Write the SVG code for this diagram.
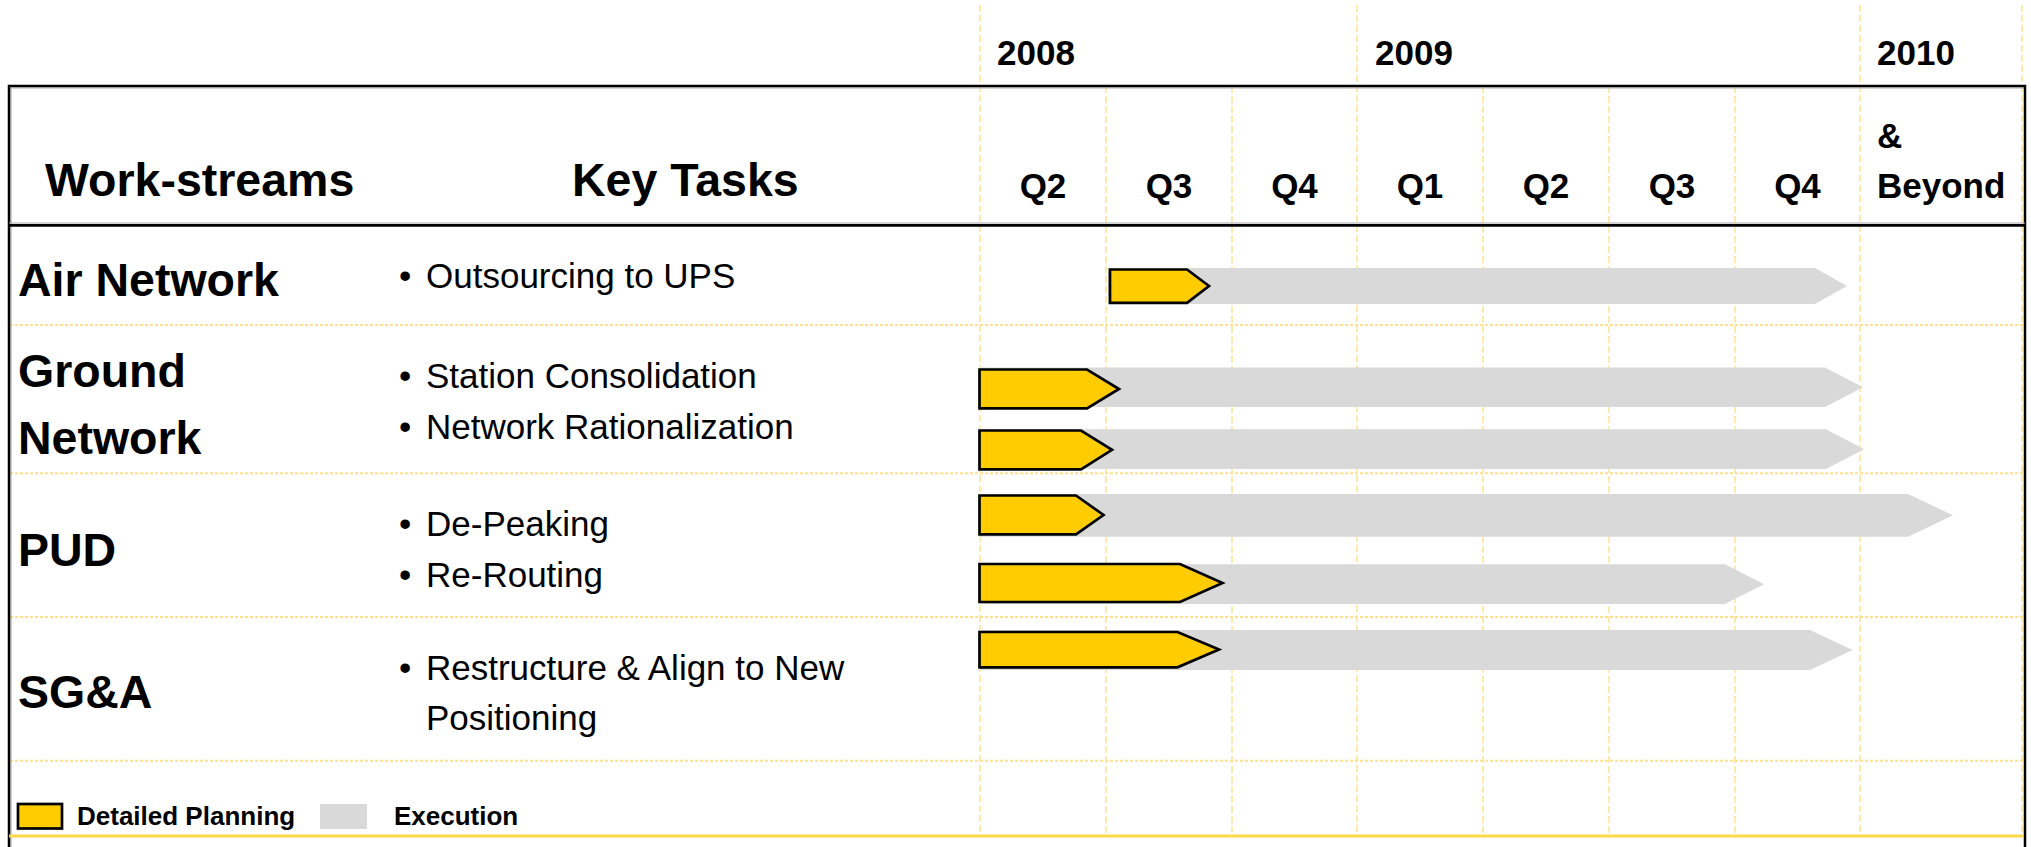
<svg xmlns="http://www.w3.org/2000/svg" width="2031" height="847" viewBox="0 0 2031 847">
<style>
.hdr{font-family:"Liberation Sans",Arial,Helvetica,sans-serif;font-weight:bold;font-size:46.5px;fill:#000}
.qt{font-family:"Liberation Sans",Arial,Helvetica,sans-serif;font-weight:bold;font-size:35px;fill:#000}
.qc{text-anchor:middle}
.task{font-family:"Liberation Sans",Arial,Helvetica,sans-serif;font-size:35px;fill:#000}
.leg{font-family:"Liberation Sans",Arial,Helvetica,sans-serif;font-weight:bold;font-size:26px;fill:#000}
.vg{stroke:#FFE08C;stroke-width:1.4;stroke-dasharray:7 3;fill:none}
.hg{stroke:#FFE08C;stroke-width:2;stroke-dasharray:3 2;fill:none}
.plan{fill:#FFCC00;stroke:#000;stroke-width:2.7;stroke-linejoin:miter}
.exec{fill:#D9D9D9;stroke:none}
</style>

<g id="gridlines">
  <line class="vg" x1="980" y1="5" x2="980" y2="836"/>
  <line class="vg" x1="1106" y1="86" x2="1106" y2="836"/>
  <line class="vg" x1="1232" y1="86" x2="1232" y2="836"/>
  <line class="vg" x1="1357" y1="5" x2="1357" y2="836"/>
  <line class="vg" x1="1483" y1="86" x2="1483" y2="836"/>
  <line class="vg" x1="1609" y1="86" x2="1609" y2="836"/>
  <line class="vg" x1="1735" y1="86" x2="1735" y2="836"/>
  <line class="vg" x1="1860" y1="5" x2="1860" y2="836"/>
  <line class="vg" x1="2022" y1="5" x2="2022" y2="836"/>
  <line class="hg" x1="10" y1="325" x2="2024" y2="325"/>
  <line class="hg" x1="10" y1="473.3" x2="2024" y2="473.3"/>
  <line class="hg" x1="10" y1="617" x2="2024" y2="617"/>
  <line class="hg" x1="10" y1="760.7" x2="2024" y2="760.7"/>
</g>

<g id="frame">
  <path d="M11,850 V88 H2024" fill="none" stroke="#B0B0B0" stroke-width="1.2"/>
  <path d="M9,850 V86 H2025 V850" fill="none" stroke="#000" stroke-width="2.5"/>
  <line x1="9" y1="223" x2="2025" y2="223" stroke="#A8A8A8" stroke-width="1.2"/>
  <line x1="9" y1="225.4" x2="2025" y2="225.4" stroke="#000" stroke-width="2.6"/>
  <line x1="9" y1="836" x2="2023" y2="836" stroke="#FFD84A" stroke-width="2.8"/>
</g>

<g id="header">
  <text class="qt" x="997" y="65">2008</text>
  <text class="qt" x="1375" y="65">2009</text>
  <text class="qt" x="1877" y="65">2010</text>
  <text class="hdr" x="45" y="196">Work-streams</text>
  <text class="hdr" x="572" y="196">Key Tasks</text>
  <text class="qt qc" x="1043" y="198">Q2</text>
  <text class="qt qc" x="1169" y="198">Q3</text>
  <text class="qt qc" x="1294.5" y="198">Q4</text>
  <text class="qt qc" x="1420" y="198">Q1</text>
  <text class="qt qc" x="1546" y="198">Q2</text>
  <text class="qt qc" x="1672" y="198">Q3</text>
  <text class="qt qc" x="1797.5" y="198">Q4</text>
  <text class="qt" x="1877" y="148">&amp;</text>
  <text class="qt" x="1877" y="198">Beyond</text>
</g>

<g id="row-air-network">
  <text class="hdr" x="18" y="296">Air Network</text>
  <text class="task" x="399" y="288">•</text>
  <text class="task" x="426" y="288">Outsourcing to UPS</text>
  <polygon class="exec" points="1108,268 1815,268 1847,286 1815,304 1108,304"/>
  <polygon class="plan" points="1110,269.5 1187,269.5 1209,286 1187,302.8 1110,302.8"/>
</g>

<g id="row-ground-network">
  <text class="hdr" x="18" y="387">Ground</text>
  <text class="hdr" x="18" y="453.5">Network</text>
  <text class="task" x="399" y="388.3">•</text>
  <text class="task" x="426" y="388.3">Station Consolidation</text>
  <text class="task" x="399" y="439">•</text>
  <text class="task" x="426" y="439">Network Rationalization</text>
  <polygon class="exec" points="980,367.5 1825,367.5 1863,387.3 1825,407 980,407"/>
  <polygon class="plan" points="979.5,369.5 1087,369.5 1119,389 1087,408.3 979.5,408.3"/>
  <polygon class="exec" points="980,429.3 1826,429.3 1864,449.2 1826,469 980,469"/>
  <polygon class="plan" points="979.5,430.5 1081,430.5 1112,449.8 1081,469.3 979.5,469.3"/>
</g>

<g id="row-pud">
  <text class="hdr" x="18" y="566">PUD</text>
  <text class="task" x="399" y="536">•</text>
  <text class="task" x="426" y="536">De-Peaking</text>
  <text class="task" x="399" y="587.3">•</text>
  <text class="task" x="426" y="587.3">Re-Routing</text>
  <polygon class="exec" points="980,494 1908,494 1953,515.3 1908,536.7 980,536.7"/>
  <polygon class="plan" points="979.5,495.5 1076,495.5 1103.5,515 1076,534.3 979.5,534.3"/>
  <polygon class="exec" points="980,564.3 1725,564.3 1764,584.2 1725,604 980,604"/>
  <polygon class="plan" points="979.5,564 1180,564 1222.5,583 1180,602 979.5,602"/>
</g>

<g id="row-sga">
  <text class="hdr" x="18" y="708">SG&amp;A</text>
  <text class="task" x="399" y="680">•</text>
  <text class="task" x="426" y="680">Restructure &amp; Align to New</text>
  <text class="task" x="426" y="730">Positioning</text>
  <polygon class="exec" points="980,630 1810,630 1852.5,650 1810,670 980,670"/>
  <polygon class="plan" points="979.5,632 1177.5,632 1219,649.6 1177.5,667.3 979.5,667.3"/>
</g>

<g id="legend">
  <rect class="plan" x="18" y="804" width="44" height="24.5"/>
  <text class="leg" x="77" y="825">Detailed Planning</text>
  <rect class="exec" x="320" y="804" width="47" height="25"/>
  <text class="leg" x="394" y="825">Execution</text>
</g>

<g id="connectors"/>
</svg>
